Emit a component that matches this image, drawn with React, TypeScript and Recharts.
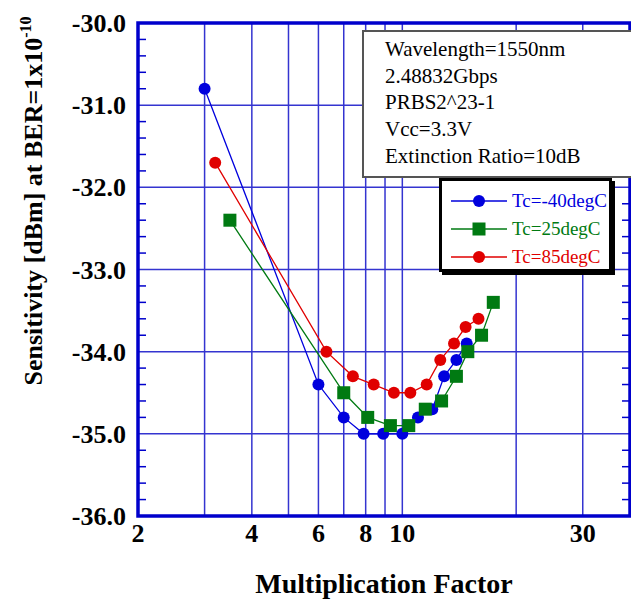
// Sensitivity vs multiplication factor: APD receiver curves drawn with Recharts
import {
  LineChart,
  Line,
  XAxis,
  YAxis,
  CartesianGrid,
  ReferenceArea,
} from 'recharts';

const tcM40X = [3, 6, 7, 7.9, 8.9, 10, 11, 12, 12.9, 13.9, 14.8];
const tcM40Y = [-30.8, -34.4, -34.8, -35.0, -35.0, -35.0, -34.8, -34.7, -34.3, -34.1, -33.9];

const tc25X = [3.5, 7, 8.1, 9.3, 10.4, 11.5, 12.7, 13.9, 14.9, 16.2, 17.4];
const tc25Y = [-32.4, -34.5, -34.8, -34.9, -34.9, -34.7, -34.6, -34.3, -34.0, -33.8, -33.4];

const tc85X = [3.2, 6.3, 7.4, 8.4, 9.5, 10.5, 11.6, 12.6, 13.7, 14.7, 15.9];
const tc85Y = [-31.7, -34.0, -34.3, -34.4, -34.5, -34.5, -34.4, -34.1, -33.9, -33.7, -33.6];

const xGridTicks = [2, 3, 4, 5, 6, 7, 8, 9, 10, 20, 30, 40];
const xLabelTicks = [2, 4, 6, 8, 10, 30];
const yMajorTicks = [-36, -35, -34, -33, -32, -31, -30];
const yMinorTicks = [
  -36, -35.8, -35.6, -35.4, -35.2, -35, -34.8, -34.6, -34.4, -34.2, -34, -33.8, -33.6,
  -33.4, -33.2, -33, -32.8, -32.6, -32.4, -32.2, -32, -31.8, -31.6, -31.4, -31.2, -31,
  -30.8, -30.6, -30.4, -30.2, -30,
];

const infoLines = [
  'Wavelength=1550nm',
  '2.48832Gbps',
  'PRBS2^23-1',
  'Vcc=3.3V',
  'Extinction Ratio=10dB',
];

const zip = (xs: number[], ys: number[]) => xs.map((x, i) => ({ x, y: ys[i] }));

const series = [
  { name: 'Tc=-40degC', color: '#0000dd', shape: 'circle', data: zip(tcM40X, tcM40Y) },
  { name: 'Tc=25degC', color: '#007a12', shape: 'square', data: zip(tc25X, tc25Y) },
  { name: 'Tc=85degC', color: '#e00000', shape: 'circle', data: zip(tc85X, tc85Y) },
];

const FONT = '"Liberation Serif", "Times New Roman", serif';
const BORDER = '#0000cc';
const GRID = '#3434d0';

const isMajor = (v: number) => Math.abs(v - Math.round(v)) < 1e-6;

function LeftTick({ x, y, payload }: any) {
  const v = payload.value as number;
  return (
    <g>
      {!isMajor(v) && <line x1={x} x2={x + 8} y1={y} y2={y} stroke={BORDER} strokeWidth={1.5} />}
      {isMajor(v) && (
        <text x={x - 12} y={y + 9} textAnchor="end" fontFamily={FONT} fontWeight="bold" fontSize={26} fill="#000">
          {v.toFixed(1)}
        </text>
      )}
    </g>
  );
}

function RightTick({ x, y, payload }: any) {
  const v = payload.value as number;
  if (isMajor(v)) return <g />;
  return <line x1={x} x2={x - 8} y1={y} y2={y} stroke={BORDER} strokeWidth={1.5} />;
}

function BottomTick({ x, y, payload }: any) {
  const v = payload.value as number;
  if (!xLabelTicks.includes(v)) return <g />;
  return (
    <text x={x} y={y + 26} textAnchor="middle" fontFamily={FONT} fontWeight="bold" fontSize={26} fill="#000">
      {v}
    </text>
  );
}

function makeDot(shape: string, color: string) {
  return (props: any) => {
    const { cx, cy, index } = props;
    if (shape === 'square') {
      return <rect key={index} x={cx - 6.5} y={cy - 6.5} width={13} height={13} fill={color} />;
    }
    return <circle key={index} cx={cx} cy={cy} r={6} fill={color} />;
  };
}

function LegendIcon({ shape, color }: { shape: string; color: string }) {
  return (
    <svg width={58} height={20} style={{ display: 'block' }}>
      <line x1={1} x2={57} y1={10} y2={10} stroke={color} strokeWidth={1.3} />
      {shape === 'square' ? (
        <rect x={22.5} y={3.5} width={13} height={13} fill={color} />
      ) : (
        <circle cx={29} cy={10} r={6} fill={color} />
      )}
    </svg>
  );
}

export default function App() {
  return (
    <div style={{ position: 'absolute', left: 0, top: 0, width: 631, height: 603, background: '#fff' }}>
      <LineChart width={631} height={603} margin={{ top: 23, right: 0, bottom: 0, left: 0 }}>
        <CartesianGrid
          yAxisId="left"
          stroke={GRID}
          strokeWidth={1.5}
          horizontalValues={yMajorTicks}
          verticalValues={xGridTicks}
        />
        <XAxis
          dataKey="x"
          type="number"
          scale="log"
          domain={[2, 40]}
          ticks={xGridTicks}
          interval={0}
          allowDataOverflow
          axisLine={false}
          tickLine={false}
          tickSize={0}
          tickMargin={0}
          tick={<BottomTick />}
          height={87}
          label={{
            position: 'insideBottom',
            content: () => (
              <text x={384} y={593} textAnchor="middle" fontFamily={FONT} fontWeight="bold" fontSize={28} fill="#000">
                Multiplication Factor
              </text>
            ),
          }}
        />
        <YAxis
          yAxisId="left"
          type="number"
          domain={[-36, -30]}
          ticks={yMinorTicks}
          interval={0}
          allowDataOverflow
          width={138}
          axisLine={false}
          tickLine={false}
          tickSize={0}
          tickMargin={0}
          tick={<LeftTick />}
          label={{
            position: 'insideLeft',
            content: () => (
              <text
                transform="translate(42,201) rotate(-90)"
                textAnchor="middle"
                fontFamily={FONT}
                fontWeight="bold"
                fontSize={26}
                fill="#000"
              >
                Sensitivity [dBm] at BER=1x10
                <tspan dy={-11} fontSize={16}>
                  -10
                </tspan>
              </text>
            ),
          }}
        />
        <YAxis
          yAxisId="right"
          orientation="right"
          type="number"
          domain={[-36, -30]}
          ticks={yMinorTicks}
          interval={0}
          allowDataOverflow
          width={1}
          axisLine={false}
          tickLine={false}
          tickSize={0}
          tickMargin={0}
          tick={<RightTick />}
        />
        <ReferenceArea
          yAxisId="left"
          x1={2}
          x2={40}
          y1={-36}
          y2={-30}
          fill="none"
          fillOpacity={0}
          stroke={BORDER}
          strokeWidth={3.5}
          ifOverflow="visible"
        />
        {series.map((s) => (
          <Line
            key={s.name}
            yAxisId="left"
            data={s.data}
            dataKey="y"
            type="linear"
            stroke={s.color}
            strokeWidth={1.3}
            dot={makeDot(s.shape, s.color)}
            activeDot={false}
            isAnimationActive={false}
          />
        ))}
      </LineChart>

      <div
        style={{
          position: 'absolute',
          left: 362,
          top: 30,
          width: 253,
          height: 140,
          border: '2px solid #555',
          background: '#fff',
          fontFamily: FONT,
          fontSize: 21,
          lineHeight: '26.7px',
          paddingTop: 4,
          paddingLeft: 21,
          boxSizing: 'content-box',
          color: '#000',
        }}
      >
        {infoLines.map((t) => (
          <div key={t} style={{ whiteSpace: 'nowrap' }}>
            {t}
          </div>
        ))}
      </div>

      <div
        style={{
          position: 'absolute',
          left: 439,
          top: 178,
          width: 173,
          height: 94,
          border: '3px solid #000',
          boxShadow: '3px 3px 0 #000',
          background: '#fff',
          paddingTop: 6,
          boxSizing: 'border-box',
          fontFamily: FONT,
          fontSize: 19,
        }}
      >
        {series.map((s) => (
          <div key={s.name} style={{ display: 'flex', alignItems: 'center', height: 28, paddingLeft: 8 }}>
            <LegendIcon shape={s.shape} color={s.color} />
            <span style={{ color: s.color, marginLeft: 4, whiteSpace: 'nowrap' }}>{s.name}</span>
          </div>
        ))}
      </div>
    </div>
  );
}
